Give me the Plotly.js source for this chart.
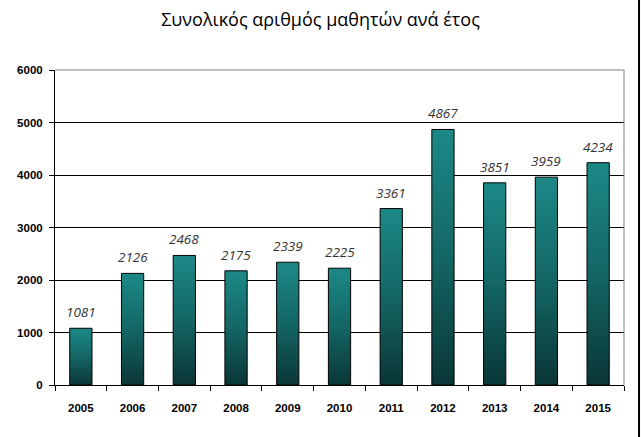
<!DOCTYPE html>
<html>
<head>
<meta charset="utf-8">
<script src="https://cdn.plot.ly/plotly-3.0.1.min.js"></script>
<style>html,body{margin:0;padding:0;background:#fff;}#chart{width:641px;height:437px;}</style>
</head>
<body>
<div id="chart"></div>
<script>
const years = ['2005','2006','2007','2008','2009','2010','2011','2012','2013','2014','2015'];
const students = [1081, 2126, 2468, 2175, 2339, 2225, 3361, 4867, 3851, 3959, 4234];
const yTicks = [0, 1000, 2000, 3000, 4000, 5000, 6000];
const chartTitle = 'Συνολικός αριθμός μαθητών ανά έτος';

const trace = {
  type: 'bar',
  x: years,
  y: students,
  marker: {color: '#136565', line: {color: '#000', width: 1}},
  hoverinfo: 'x+y'
};

// data labels: one per category (x given as category index)
const labels = years.map(function (yr, i) {
  return {
    x: i, y: students[i], xref: 'x', yref: 'y',
    text: String(students[i]),
    showarrow: false, yanchor: 'bottom', yshift: 5,
    font: {family: 'Open Sans, Noto Sans, sans-serif', size: 13.5, color: '#333', style: 'italic'}
  };
});

const layout = {
  width: 641, height: 437,
  margin: {l: 55, r: 17, t: 69.5, b: 52, pad: 0},
  paper_bgcolor: '#fff', plot_bgcolor: '#fff',
  showlegend: false,
  bargap: 0.57,
  title: {
    text: chartTitle,
    x: 0.5, xref: 'container', xanchor: 'center',
    y: 1 - 20/437, yref: 'container', yanchor: 'middle',
    font: {family: 'Open Sans, Noto Sans, sans-serif', size: 18, color: '#000'}
  },
  xaxis: {
    type: 'category',
    categoryarray: years, categoryorder: 'array',
    range: [-0.5, years.length - 0.5],
    showline: true, linecolor: '#000', linewidth: 1,
    ticks: 'outside', ticklen: 5, tickcolor: '#000', tickson: 'boundaries',
    ticklabelstandoff: 12,
    tickfont: {family: 'Arial, Liberation Sans, sans-serif', size: 11.5, color: '#000', weight: 'bold'},
    showgrid: false, zeroline: false
  },
  yaxis: {
    range: [0, 6000],
    tickvals: yTicks,
    ticktext: yTicks.map(String),
    showline: true, linecolor: '#000', linewidth: 1,
    ticks: 'outside', ticklen: 5, tickcolor: '#000',
    ticklabelstandoff: 4,
    showgrid: true, gridcolor: '#000', gridwidth: 1,
    zeroline: false,
    tickfont: {family: 'Arial, Liberation Sans, sans-serif', size: 11.5, color: '#000', weight: 'bold'}
  },
  annotations: labels,
  shapes: [
    {type: 'line', xref: 'paper', yref: 'paper', x0: 0, x1: 1, y0: 1, y1: 1, line: {color: '#808080', width: 1}, layer: 'above'},
    {type: 'line', xref: 'paper', yref: 'paper', x0: 1, x1: 1, y0: 0, y1: 1, line: {color: '#808080', width: 1}, layer: 'above'},
    {type: 'line', xref: 'paper', yref: 'paper', x0: 1.0264, x1: 1.0264, y0: -0.2, y1: 1.28, line: {color: '#000', width: 2}, layer: 'above'}
  ]
};

Plotly.newPlot('chart', [trace], layout, {displayModeBar: false, staticPlot: true}).then(function (gd) {
  const svg = gd.querySelector('.main-svg');
  const NS = 'http://www.w3.org/2000/svg';
  let defs = svg.querySelector('defs');
  if (!defs) { defs = document.createElementNS(NS, 'defs'); svg.insertBefore(defs, svg.firstChild); }
  const grad = document.createElementNS(NS, 'linearGradient');
  grad.setAttribute('id', 'barGrad');
  grad.setAttribute('x1', '0'); grad.setAttribute('y1', '0');
  grad.setAttribute('x2', '0'); grad.setAttribute('y2', '1');
  [['0%', '#1c8987'], ['50%', '#136664'], ['100%', '#0a3636']].forEach(function (s) {
    const st = document.createElementNS(NS, 'stop');
    st.setAttribute('offset', s[0]);
    st.setAttribute('stop-color', s[1]);
    grad.appendChild(st);
  });
  defs.appendChild(grad);
  gd.querySelectorAll('.bars .point path').forEach(function (p) {
    p.style.fill = 'url(#barGrad)';
  });
});
</script>
</body>
</html>
